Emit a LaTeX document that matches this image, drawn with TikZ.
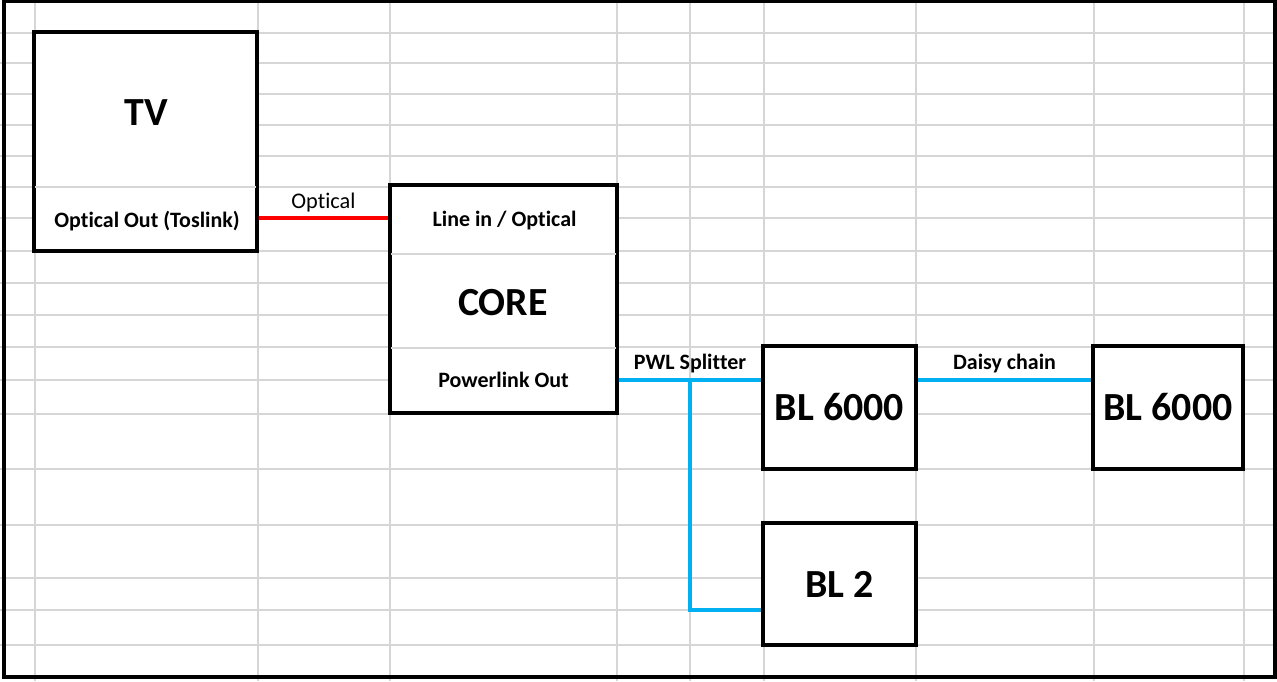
\documentclass[tikz,border=0pt]{standalone}
\usepackage{fontspec}
\setmainfont[Ligatures=NoCommon]{Carlito}
\usepackage{tikz}
\usetikzlibrary{positioning, calc}
\usepackage{xcolor}
\definecolor{cellgray}{RGB}{214,214,214}
\definecolor{opticred}{RGB}{255,0,0}
\definecolor{pwlblue}{RGB}{0,176,240}

\begin{document}
\begin{tikzpicture}[
  x=0.02cm, y=-0.02cm,
  cell/.style={cellgray, line width=0.85pt},
  divider/.style={cell, shorten <=1.6pt, shorten >=1.6pt},
  bigfont/.style={font=\fontsize{22.7}{27}\selectfont\bfseries},
  box/.style={draw, fill=white, line width=1.8pt, inner sep=0pt, bigfont},
  title/.style={bigfont, anchor=base, inner sep=0pt},
  port/.style={font=\fontsize{12.5}{15}\selectfont\bfseries, anchor=base, inner sep=0pt},
  wirelbl/.style={font=\fontsize{12.5}{15}\selectfont\bfseries, text=black, inner sep=0pt},
  optic/.style={opticred, line width=2.3pt},
  pwl/.style={pwlblue, line width=2.3pt},
]
\useasboundingbox (0,0) rectangle (1277,681);

% spreadsheet grid
\foreach \gx in {35,258,390,617,690,764,916,1094,1244}
  \draw[cell] (\gx,0) -- (\gx,681);
\foreach \gy in {33,63,94,125,156,187,218,251,283,315,347,380,414,469,525,578,610,645}
  \draw[cell] (0,\gy) -- (1277,\gy);

% === TV ===
\node[box, minimum width=4.46cm, minimum height=4.38cm] (tv) at (145.5,141.5) {};
\draw[divider] (tv.west |- 0,187) -- (tv.east |- 0,187);
\node[title] (tvname) at (146.5,125) {TV};
\node[port] (tvout) at (147,227) {Optical Out (Toslink)};

% === CORE ===
\node[box, minimum width=4.54cm, minimum height=4.56cm] (core) at (503.5,299) {};
\draw[divider] (core.west |- 0,254) -- (core.east |- 0,254);
\draw[divider] (core.west |- 0,348) -- (core.east |- 0,348);
\node[port] (corein) at (504.5,226) {Line in / Optical};
\node[title] (corename) at (503,315) {CORE};
\node[port] (coreout) at (503.5,387) {Powerlink Out};

% === Speakers ===
\node[box, minimum width=3.06cm, minimum height=2.46cm] (bl6a) at (839.5,407.5) {BL 6000};
\node[box, minimum width=3.0cm, minimum height=2.46cm] (bl6b) at (1168,407.5) {BL 6000};
\node[box, minimum width=3.06cm, minimum height=2.44cm] (bl2) at (839.5,584) {BL 2};

% cables
\draw[optic] (tv.east |- 0,218) -- (core.west |- 0,218)
  node[midway, above=0.07cm, inner sep=0pt, text=black, font=\fontsize{12.7}{15}\selectfont] {Optical};

\coordinate (split) at (690,380);
\draw[pwl] (core.east |- split) -- (bl6a.west |- split)
  node[midway, above=0.11cm, wirelbl] {PWL Splitter};
\draw[pwl] (split) |- (bl2.west |- 0,610);
\draw[pwl] (bl6a.east |- split) -- (bl6b.west |- split)
  node[midway, above=0.11cm, wirelbl] {Daisy chain};

% sheet frame
\draw[line width=2pt] (4,1) rectangle (1275,677);
\end{tikzpicture}
\end{document}
